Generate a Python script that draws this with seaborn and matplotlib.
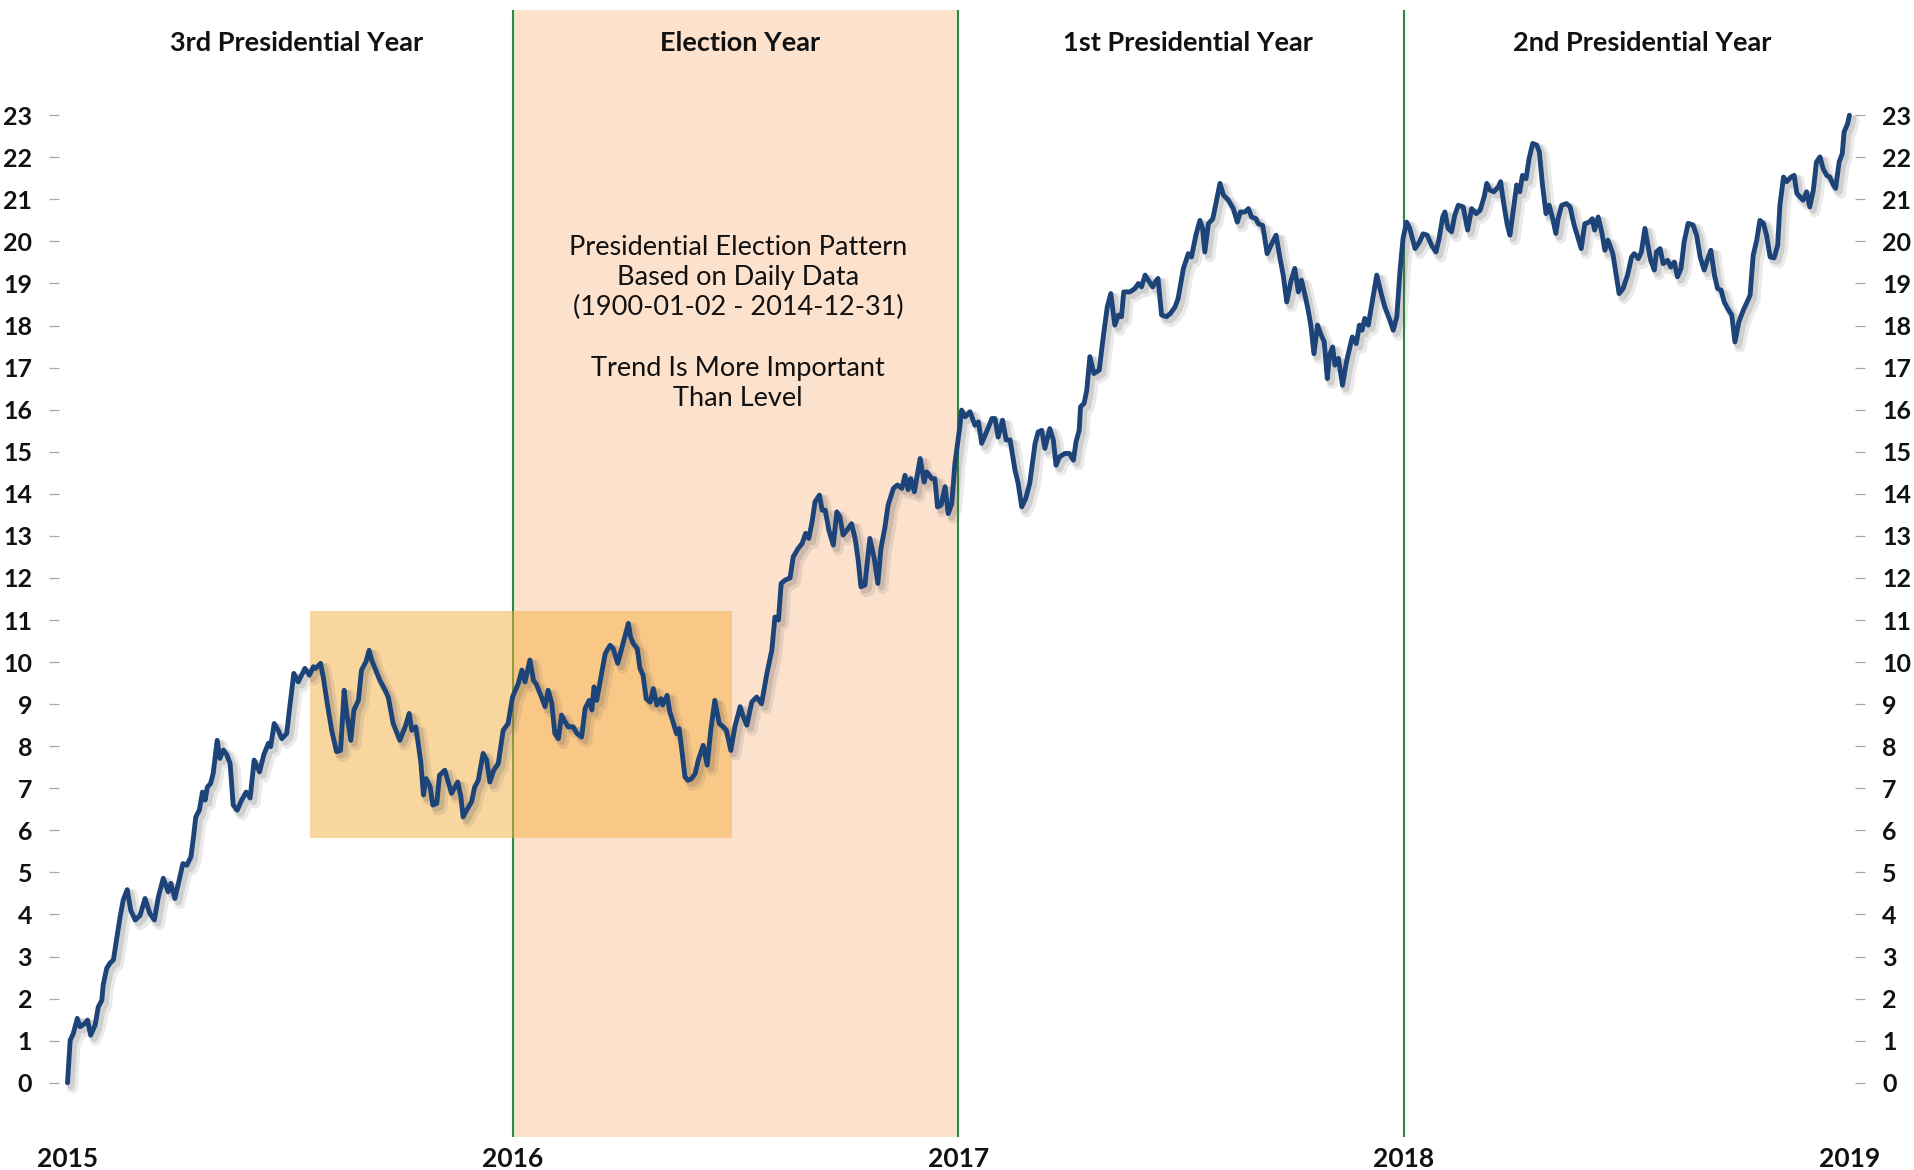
import matplotlib
matplotlib.use("Agg")
import matplotlib.pyplot as plt
import matplotlib.patheffects as pe
from matplotlib.patches import Rectangle
import pandas as pd
import seaborn as sns

# cumulative pattern, x in fractional years, y in percent
year_pos = [
    2015.000, 2015.006, 2015.013, 2015.022, 2015.028, 2015.039, 2015.045, 2015.052, 2015.062, 2015.069,
    2015.077, 2015.080, 2015.088, 2015.095, 2015.103, 2015.110, 2015.118, 2015.125, 2015.134, 2015.142,
    2015.152, 2015.163, 2015.174, 2015.185, 2015.195, 2015.204, 2015.215, 2015.226, 2015.232, 2015.241,
    2015.249, 2015.259, 2015.268, 2015.277, 2015.282, 2015.288, 2015.296, 2015.303, 2015.309, 2015.314,
    2015.321, 2015.327, 2015.336, 2015.342, 2015.350, 2015.357, 2015.365, 2015.372, 2015.381, 2015.391,
    2015.401, 2015.410, 2015.419, 2015.431, 2015.441, 2015.451, 2015.456, 2015.464, 2015.473, 2015.481,
    2015.492, 2015.499, 2015.508, 2015.518, 2015.533, 2015.543, 2015.552, 2015.557, 2015.568, 2015.574,
    2015.582, 2015.593, 2015.604, 2015.613, 2015.621, 2015.628, 2015.636, 2015.643, 2015.653, 2015.660,
    2015.670, 2015.677, 2015.683, 2015.692, 2015.701, 2015.713, 2015.720, 2015.731, 2015.746, 2015.758,
    2015.767, 2015.773, 2015.782, 2015.793, 2015.799, 2015.805, 2015.814, 2015.820, 2015.829, 2015.835,
    2015.847, 2015.862, 2015.876, 2015.883, 2015.888, 2015.896, 2015.907, 2015.914, 2015.922, 2015.933,
    2015.941, 2015.948, 2015.957, 2015.967, 2015.978, 2015.989, 2015.999, 2016.012, 2016.020, 2016.027,
    2016.038, 2016.046, 2016.053, 2016.064, 2016.072, 2016.079, 2016.087, 2016.094, 2016.102, 2016.109,
    2016.117, 2016.124, 2016.135, 2016.144, 2016.154, 2016.162, 2016.171, 2016.177, 2016.182, 2016.188,
    2016.199, 2016.207, 2016.218, 2016.225, 2016.235, 2016.242, 2016.251, 2016.259, 2016.264, 2016.270,
    2016.279, 2016.285, 2016.292, 2016.299, 2016.308, 2016.315, 2016.323, 2016.332, 2016.336, 2016.346,
    2016.352, 2016.358, 2016.367, 2016.373, 2016.379, 2016.386, 2016.393, 2016.401, 2016.409, 2016.416,
    2016.427, 2016.436, 2016.444, 2016.453, 2016.463, 2016.472, 2016.479, 2016.489, 2016.498, 2016.510,
    2016.517, 2016.525, 2016.536, 2016.547, 2016.558, 2016.570, 2016.581, 2016.588, 2016.596, 2016.602,
    2016.611, 2016.622, 2016.629, 2016.640, 2016.649, 2016.657, 2016.664, 2016.672, 2016.678, 2016.688,
    2016.694, 2016.701, 2016.709, 2016.719, 2016.727, 2016.734, 2016.741, 2016.750, 2016.760, 2016.768,
    2016.775, 2016.781, 2016.790, 2016.801, 2016.811, 2016.819, 2016.826, 2016.835, 2016.842, 2016.854,
    2016.863, 2016.873, 2016.880, 2016.887, 2016.893, 2016.901, 2016.914, 2016.923, 2016.929, 2016.940,
    2016.947, 2016.953, 2016.961, 2016.970, 2016.977, 2016.985, 2016.992, 2017.003, 2017.007, 2017.015,
    2017.026, 2017.037, 2017.045, 2017.052, 2017.063, 2017.075, 2017.082, 2017.089, 2017.099, 2017.107,
    2017.116, 2017.127, 2017.134, 2017.142, 2017.151, 2017.160, 2017.172, 2017.179, 2017.187, 2017.194,
    2017.205, 2017.213, 2017.219, 2017.227, 2017.239, 2017.249, 2017.258, 2017.264, 2017.271, 2017.274,
    2017.282, 2017.288, 2017.295, 2017.304, 2017.316, 2017.325, 2017.334, 2017.342, 2017.351, 2017.359,
    2017.366, 2017.371, 2017.385, 2017.396, 2017.404, 2017.411, 2017.419, 2017.426, 2017.436, 2017.442,
    2017.448, 2017.456, 2017.467, 2017.476, 2017.486, 2017.493, 2017.505, 2017.516, 2017.523, 2017.533,
    2017.542, 2017.548, 2017.553, 2017.561, 2017.571, 2017.580, 2017.587, 2017.595, 2017.606, 2017.617,
    2017.626, 2017.633, 2017.643, 2017.651, 2017.658, 2017.668, 2017.673, 2017.683, 2017.693, 2017.703,
    2017.713, 2017.722, 2017.729, 2017.737, 2017.746, 2017.755, 2017.763, 2017.770, 2017.778, 2017.785,
    2017.791, 2017.798, 2017.806, 2017.813, 2017.821, 2017.828, 2017.833, 2017.840, 2017.845, 2017.853,
    2017.862, 2017.871, 2017.884, 2017.893, 2017.900, 2017.906, 2017.912, 2017.920, 2017.930, 2017.939,
    2017.948, 2017.957, 2017.967, 2017.976, 2017.984, 2017.991, 2017.998, 2018.006, 2018.013, 2018.025,
    2018.035, 2018.043, 2018.052, 2018.062, 2018.072, 2018.079, 2018.087, 2018.092, 2018.099, 2018.107,
    2018.114, 2018.122, 2018.133, 2018.143, 2018.152, 2018.162, 2018.171, 2018.180, 2018.186, 2018.193,
    2018.202, 2018.212, 2018.217, 2018.224, 2018.232, 2018.238, 2018.245, 2018.253, 2018.260, 2018.266,
    2018.274, 2018.281, 2018.289, 2018.298, 2018.304, 2018.311, 2018.319, 2018.326, 2018.334, 2018.341,
    2018.346, 2018.354, 2018.365, 2018.373, 2018.382, 2018.389, 2018.398, 2018.406, 2018.416, 2018.423,
    2018.428, 2018.436, 2018.444, 2018.451, 2018.458, 2018.469, 2018.483, 2018.492, 2018.502, 2018.511,
    2018.517, 2018.526, 2018.533, 2018.541, 2018.549, 2018.554, 2018.562, 2018.567, 2018.575, 2018.582,
    2018.592, 2018.599, 2018.607, 2018.614, 2018.622, 2018.629, 2018.638, 2018.649, 2018.657, 2018.665,
    2018.674, 2018.682, 2018.689, 2018.697, 2018.704, 2018.712, 2018.719, 2018.727, 2018.736, 2018.743,
    2018.752, 2018.762, 2018.769, 2018.777, 2018.784, 2018.792, 2018.799, 2018.807, 2018.814, 2018.822,
    2018.831, 2018.839, 2018.844, 2018.852, 2018.859, 2018.869, 2018.876, 2018.882, 2018.889, 2018.896,
    2018.904, 2018.911, 2018.919, 2018.926, 2018.934, 2018.941, 2018.949, 2018.956, 2018.964, 2018.969,
    2018.977, 2018.984, 2018.988, 2018.996, 2019.000,
]
pattern = [
    0.00, 1.01, 1.17, 1.53, 1.33, 1.41, 1.49, 1.13, 1.37, 1.80,
    1.96, 2.32, 2.72, 2.84, 2.92, 3.39, 3.94, 4.34, 4.59, 4.10,
    3.87, 3.98, 4.38, 4.02, 3.87, 4.42, 4.86, 4.54, 4.74, 4.38,
    4.74, 5.21, 5.17, 5.37, 5.77, 6.32, 6.48, 6.91, 6.72, 7.03,
    7.11, 7.35, 8.14, 7.71, 7.91, 7.81, 7.59, 6.60, 6.48, 6.72,
    6.91, 6.77, 7.67, 7.39, 7.81, 8.07, 7.99, 8.54, 8.38, 8.18,
    8.30, 8.94, 9.73, 9.53, 9.85, 9.69, 9.89, 9.85, 9.97, 9.65,
    9.09, 8.38, 7.87, 7.90, 9.33, 8.70, 8.14, 8.86, 9.09, 9.81,
    10.01, 10.28, 10.04, 9.81, 9.57, 9.33, 9.17, 8.54, 8.14, 8.46,
    8.78, 8.38, 8.46, 7.63, 6.84, 7.23, 7.04, 6.60, 6.64, 7.31,
    7.43, 6.88, 7.15, 6.80, 6.32, 6.48, 6.68, 7.03, 7.19, 7.83,
    7.67, 7.15, 7.43, 7.59, 8.38, 8.54, 9.17, 9.49, 9.81, 9.53,
    10.05, 9.57, 9.46, 9.17, 8.94, 9.33, 9.02, 8.30, 8.18, 8.74,
    8.58, 8.46, 8.46, 8.30, 8.22, 8.90, 9.09, 8.86, 9.41, 9.09,
    9.73, 10.20, 10.40, 10.32, 9.97, 10.24, 10.60, 10.92, 10.60, 10.44,
    10.32, 9.85, 9.69, 9.13, 9.05, 9.37, 8.98, 9.13, 8.98, 9.21,
    8.82, 8.62, 8.30, 8.42, 7.91, 7.27, 7.19, 7.23, 7.35, 7.67,
    8.02, 7.55, 8.38, 9.09, 8.54, 8.46, 8.38, 7.90, 8.46, 8.94,
    8.70, 8.50, 9.05, 9.17, 9.01, 9.73, 10.28, 11.07, 11.00, 11.87,
    11.95, 12.00, 12.50, 12.70, 12.82, 13.06, 12.94, 13.37, 13.81, 13.97,
    13.61, 13.61, 13.14, 12.78, 13.57, 13.45, 13.02, 13.14, 13.29, 12.94,
    12.42, 11.79, 11.83, 12.94, 12.46, 11.87, 12.70, 13.21, 13.73, 14.13,
    14.21, 14.13, 14.44, 14.10, 14.36, 14.05, 14.84, 14.28, 14.52, 14.36,
    14.36, 13.69, 13.73, 14.17, 13.53, 13.77, 14.72, 15.59, 15.99, 15.83,
    15.95, 15.63, 15.71, 15.20, 15.47, 15.79, 15.79, 15.35, 15.75, 15.28,
    15.28, 14.56, 14.25, 13.69, 13.89, 14.25, 15.20, 15.47, 15.51, 15.08,
    15.55, 15.28, 14.68, 14.88, 14.96, 14.96, 14.80, 15.24, 15.51, 16.07,
    16.15, 16.46, 17.26, 16.86, 16.94, 17.73, 18.44, 18.76, 18.01, 18.25,
    18.21, 18.80, 18.80, 18.88, 19.00, 18.92, 19.20, 19.08, 18.92, 19.04,
    19.12, 18.25, 18.21, 18.29, 18.44, 18.64, 19.36, 19.71, 19.63, 20.15,
    20.50, 20.31, 19.75, 20.42, 20.54, 21.02, 21.38, 21.10, 20.98, 20.78,
    20.46, 20.70, 20.70, 20.78, 20.58, 20.54, 20.42, 20.38, 19.71, 19.94,
    20.15, 19.59, 19.20, 18.56, 19.04, 19.36, 18.80, 19.08, 18.72, 18.37,
    18.01, 17.33, 18.01, 17.81, 17.61, 16.74, 17.30, 17.49, 17.06, 17.22,
    16.58, 17.14, 17.73, 17.57, 18.01, 17.89, 18.17, 18.01, 18.64, 19.20,
    18.80, 18.44, 18.17, 17.89, 18.21, 19.28, 20.07, 20.46, 20.31, 19.83,
    19.99, 20.18, 20.15, 19.91, 19.75, 20.07, 20.58, 20.70, 20.31, 20.23,
    20.62, 20.86, 20.82, 20.27, 20.78, 20.66, 20.74, 21.06, 21.38, 21.22,
    21.18, 21.30, 21.42, 20.90, 20.39, 20.15, 20.70, 21.34, 21.18, 21.57,
    21.49, 21.97, 22.33, 22.29, 22.13, 21.34, 20.66, 20.86, 20.54, 20.19,
    20.54, 20.86, 20.90, 20.82, 20.39, 20.15, 19.83, 20.42, 20.46, 20.54,
    20.27, 20.58, 20.23, 19.79, 20.03, 19.71, 18.76, 18.88, 19.20, 19.63,
    19.71, 19.59, 19.75, 20.31, 19.83, 19.55, 19.32, 19.75, 19.83, 19.47,
    19.55, 19.39, 19.51, 19.16, 19.36, 19.99, 20.43, 20.39, 20.15, 19.63,
    19.32, 19.59, 19.79, 19.20, 18.88, 18.84, 18.56, 18.40, 18.25, 17.61,
    18.09, 18.37, 18.53, 18.72, 19.67, 20.03, 20.50, 20.43, 20.15, 19.63,
    19.61, 19.91, 20.86, 21.53, 21.42, 21.53, 21.57, 21.14, 21.06, 20.98,
    21.18, 20.82, 21.22, 21.89, 22.01, 21.73, 21.57, 21.53, 21.34, 21.26,
    21.89, 22.09, 22.60, 22.80, 23.00,
]

year_ticks = [2015, 2016, 2017, 2018, 2019]
year_labels = ["2015", "2016", "2017", "2018", "2019"]
value_ticks = list(range(0, 24))
cycle_labels = ["3rd Presidential Year", "Election Year",
                "1st Presidential Year", "2nd Presidential Year"]
cycle_centers = [2015.515, 2016.51, 2017.515, 2018.535]
divider_years = [2016, 2017, 2018]
election_span = (2016, 2017)
# highlighted sideways range
box_x = (2015.544, 2016.492)
box_y = (5.81, 11.21)
note = ("Presidential Election Pattern\nBased on Daily Data\n(1900-01-02 - 2014-12-31)\n\n"
        "Trend Is More Important\nThan Level")

sns.set_theme(style="white")
plt.rcParams["font.family"] = ["Lato", "DejaVu Sans"]

fig = plt.figure(figsize=(19.15, 11.70), dpi=100)
ax = fig.add_axes([0.03525, 0.0282, 0.9305, 0.9632])

ax.axvspan(*election_span, color="#FCE1CD", zorder=0, lw=0)
for yr in divider_years:
    ax.axvline(yr, color="#2B8A3C", lw=1.5, zorder=1)
ax.add_patch(Rectangle((box_x[0], box_y[0]), box_x[1] - box_x[0], box_y[1] - box_y[0],
                       facecolor="#F7AF41", alpha=0.5, lw=0, zorder=2))

df = pd.DataFrame({"year": year_pos, "value": pattern})
sns.lineplot(data=df, x="year", y="value", ax=ax, color="#1D4479", lw=3.5,
             estimator=None, sort=False, zorder=4)
line = ax.lines[-1]
line.set_clip_on(False)
line.set_path_effects([
    pe.SimpleLineShadow(offset=(3.5, -3.5), shadow_color="#555555", alpha=0.12, linewidth=8),
    pe.SimpleLineShadow(offset=(2.5, -2.5), shadow_color="#555555", alpha=0.18, linewidth=5),
    pe.Normal(),
])

ax.set_xlim(2015, 2019)
ax.set_ylim(-1.29, 25.5)
ax.set_xlabel("")
ax.set_ylabel("")

# spines first: moving a spine resets the ticks
for side in ["top", "bottom"]:
    ax.spines[side].set_visible(False)
ax.spines["left"].set_position(("outward", 6))
ax.spines["right"].set_position(("outward", 4))
ax.spines["left"].set_color("none")
ax.spines["right"].set_color("none")

ax.tick_params(axis="x", length=0, pad=7, labelsize=19, labelcolor="#111111")
ax.tick_params(axis="y", left=True, right=True, labelleft=True, labelright=True,
               length=7.5, width=0.9, color="#A8A8A8", pad=12, direction="out",
               labelsize=18, labelcolor="#111111")

ax.set_xticks(year_ticks)
ax.set_xticklabels(year_labels, fontsize=19, fontweight="bold")
ax.set_yticks(value_ticks)
ax.set_yticklabels([str(v) for v in value_ticks], fontsize=18, fontweight="bold")
for tk in ax.xaxis.get_major_ticks() + ax.yaxis.get_major_ticks():
    tk.label1.set_fontweight("bold")
    tk.label2.set_fontweight("bold")

for label, cx in zip(cycle_labels, cycle_centers):
    ax.text(cx, 0.9707, label, transform=ax.get_xaxis_transform(), ha="center", va="center",
            fontsize=19.5, fontweight="bold", color="#111111")

ax.text(2016.505, 18.06, note, ha="center", va="center", multialignment="center",
        fontsize=19.5, linespacing=1.26, color="#111111", zorder=5)

fig.savefig("out.png", dpi=100)
plt.close(fig)
